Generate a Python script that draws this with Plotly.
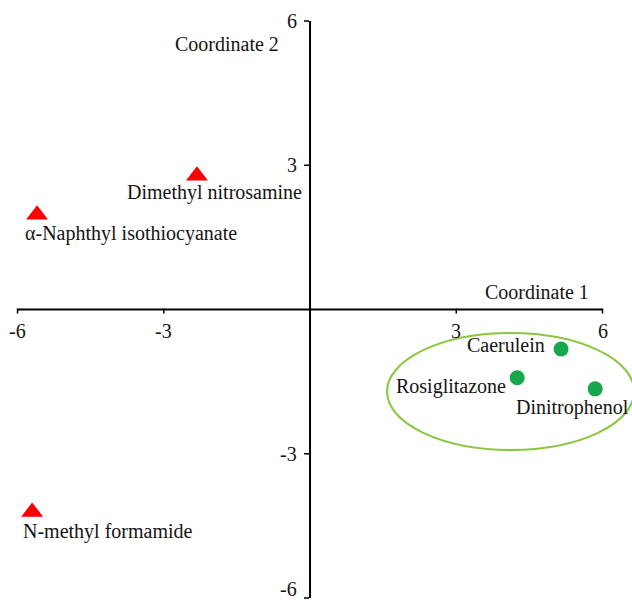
import plotly.graph_objects as go

# Compounds placed on the first two ordination coordinates
group_a_names = ["Dimethyl nitrosamine", "α-Naphthyl isothiocyanate", "N-methyl formamide"]
group_a_x = [-2.32, -5.60, -5.70]
group_a_y = [2.78, 1.97, -4.21]

group_b_names = ["Caerulein", "Rosiglitazone", "Dinitrophenol"]
group_b_x = [5.15, 4.25, 5.85]
group_b_y = [-0.82, -1.42, -1.65]

# Cluster outline around the second group (x0, x1, y0, y1)
cluster_box = [1.58, 6.65, -2.92, -0.49]

tick_values = [-6, -3, 3, 6]
tick_labels = ["-6", "-3", "3", "6"]
axis_titles = ["Coordinate 1", "Coordinate 2"]

FONT = "Liberation Serif, Times New Roman, serif"
TXT = "#141414"
RED = "#ff0000"
GREEN = "#17a84b"
LIME = "#8cc63f"

fig = go.Figure()

fig.add_trace(go.Scatter(
    x=group_a_x, y=group_a_y, mode="markers",
    marker=dict(symbol="triangle-up", size=19, color=RED),
    hoverinfo="skip", showlegend=False,
))
fig.add_trace(go.Scatter(
    x=group_b_x, y=group_b_y, mode="markers",
    marker=dict(symbol="circle", size=15, color=GREEN),
    hoverinfo="skip", showlegend=False,
))

shapes = []
# axis lines through the origin
shapes.append(dict(type="line", x0=-6, x1=6, y0=0, y1=0, xref="x", yref="y",
                   line=dict(color="black", width=2)))
shapes.append(dict(type="line", x0=0, x1=0, y0=-6, y1=6, xref="x", yref="y",
                   line=dict(color="black", width=2)))
# tick marks
for v in tick_values:
    shapes.append(dict(type="line", xref="x", yref="y", x0=v, x1=v,
                       ysizemode="pixel", yanchor=0, y0=1, y1=-4,
                       line=dict(color="black", width=1.5)))
    shapes.append(dict(type="line", xref="x", yref="y", y0=v, y1=v,
                       xsizemode="pixel", xanchor=0, x0=-1, x1=-6,
                       line=dict(color="black", width=1.5)))
# cluster ellipse
shapes.append(dict(type="circle", xref="x", yref="y",
                   x0=cluster_box[0], x1=cluster_box[1],
                   y0=cluster_box[2], y1=cluster_box[3],
                   line=dict(color=LIME, width=2)))

annotations = []
for v, t in zip(tick_values, tick_labels):
    annotations.append(dict(x=v, y=0, xref="x", yref="y", text=t, showarrow=False,
                            xanchor="center", yanchor="middle", yshift=-21,
                            font=dict(family=FONT, size=20, color=TXT)))
    annotations.append(dict(x=0, y=v, xref="x", yref="y", text=t, showarrow=False,
                            xanchor="right", yanchor="middle", xshift=-12,
                            yshift=9 if v == -6 else 0, borderpad=0,
                            font=dict(family=FONT, size=20, color=TXT)))

annotations.append(dict(x=6, y=0, xref="x", yref="y", text=axis_titles[0], showarrow=False,
                        xanchor="right", yanchor="middle", xshift=-12, yshift=18,
                        font=dict(family=FONT, size=20, color=TXT)))
annotations.append(dict(x=0, y=5.52, xref="x", yref="y", text=axis_titles[1], showarrow=False,
                        xanchor="right", yanchor="middle", xshift=-29,
                        font=dict(family=FONT, size=20, color=TXT)))

# point labels: (anchor, xshift, yshift)
label_a = [("center", 18, -17), ("left", -14, -19), ("left", -11, -20)]
label_b = [("right", -14, 4), ("right", -9, -9), ("right", 36, -19)]
for names, xs, ys, opts in [(group_a_names, group_a_x, group_a_y, label_a),
                            (group_b_names, group_b_x, group_b_y, label_b)]:
    for n, x, y, (xa, dx, dy) in zip(names, xs, ys, opts):
        annotations.append(dict(x=x, y=y, xref="x", yref="y", text=n, showarrow=False,
                                xanchor=xa, yanchor="middle", xshift=dx, yshift=dy,
                                font=dict(family=FONT, size=20, color=TXT)))

fig.update_layout(
    width=632, height=602,
    margin=dict(l=0, r=0, t=0, b=0),
    paper_bgcolor="white", plot_bgcolor="white",
    xaxis=dict(range=[-6.36, 6.605], visible=False, fixedrange=True),
    yaxis=dict(range=[-6.083, 6.437], visible=False, fixedrange=True),
    shapes=shapes, annotations=annotations,
    showlegend=False,
)

fig.write_html("out.html")
